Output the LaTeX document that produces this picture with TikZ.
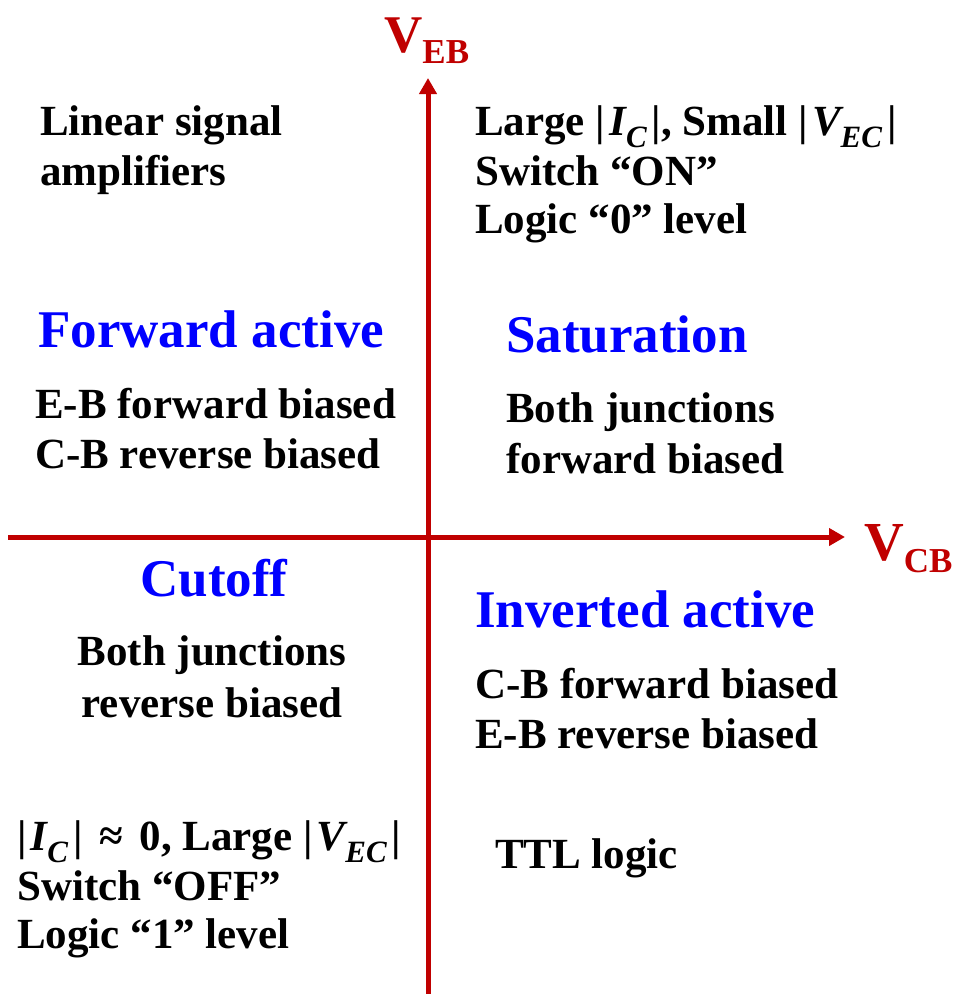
\documentclass[tikz,border=0pt]{standalone}
\usepackage{fontspec}
\setmainfont{Liberation Serif}
\usetikzlibrary{arrows.meta}
\definecolor{axred}{RGB}{192,0,0}
\definecolor{modeblue}{RGB}{0,0,255}
\newcommand{\blkfont}{\fontsize{43}{51}\selectfont\bfseries}
\newcommand{\modefont}{\fontsize{53}{60}\selectfont\bfseries}
\newcommand{\sbit}[1]{\raisebox{-0.3em}[\height][0pt]{\fontsize{31}{31}\selectfont\bfseries\itshape #1}}
\newcommand{\mvar}[1]{{\itshape #1}}
\newcommand{\absv}[1]{|\kern4pt#1\kern5pt|}
\tikzset{
  axis/.style={draw=axred, line width=5pt, -{Triangle[length=16pt,width=17pt]}},
  txt/.style={anchor=base west, inner sep=0pt, font=\blkfont, text=black},
  ctxt/.style={anchor=base, inner sep=0pt, font=\blkfont, text=black},
  mode/.style={anchor=base west, inner sep=0pt, font=\modefont, text=modeblue},
  cmode/.style={anchor=base, inner sep=0pt, font=\modefont, text=modeblue},
  axlab/.style={anchor=base west, inner sep=0pt, text=axred}
}
\begin{document}
\begin{tikzpicture}[x=1pt,y=-1pt]
\useasboundingbox[fill=white] (0,0) rectangle (960,994);
% axes
\coordinate (ybot) at (428,994);
\coordinate (ytop) at (428,78);
\coordinate (xleft) at (8,537);
\coordinate (xright) at (845,537);
\draw[axis] (ybot) -- (ytop);
\draw[axis] (xleft) -- (xright);
% axis labels
\node[axlab] (veb) at (384,52) {\fontsize{53}{53}\selectfont\bfseries V\raisebox{-11pt}{\fontsize{35}{35}\selectfont\bfseries EB}};
\node[axlab] (vcb) at (864,560) {\fontsize{55}{55}\selectfont\bfseries V\raisebox{-12pt}{\fontsize{35}{35}\selectfont\bfseries CB}};
% top-left
\node[txt] (lin1) at (40,135) {Linear signal};
\node[txt] (lin2) at (40,185) {amplifiers};
\node[mode] (fwd) at (38,347) {Forward active};
\node[txt] (fwd1) at (35,418) {E-B forward biased};
\node[txt] (fwd2) at (35,468) {C-B reverse biased};
% top-right
\node[txt] (sat1) at (475,135) {Large \absv{\mvar{I}\sbit{C}}, Small \absv{\mvar{V}\sbit{EC}}};
\node[txt] (sat2) at (475,185) {Switch “ON”};
\node[txt] (sat3) at (475,233) {Logic “0” level};
\node[mode] (sat) at (506,352) {Saturation};
\node[txt] (satb1) at (506,422) {Both junctions};
\node[txt] (satb2) at (506,473) {forward biased};
% bottom-left
\node[cmode] (cut) at (214,596) {Cutoff};
\node[ctxt] (cutb1) at (212,665) {Both junctions};
\node[ctxt] (cutb2) at (212,717) {reverse biased};
\node[txt] (off1) at (17,850) {\absv{\mvar{I}\sbit{C}}\kern6pt{} ≈\kern6pt{} 0, Large \absv{\mvar{V}\sbit{EC}}};
\node[txt] (off2) at (17,900) {Switch “OFF”};
\node[txt] (off3) at (17,948) {Logic “1” level};
% bottom-right
\node[mode] (inv) at (475,627) {Inverted active};
\node[txt] (inv1) at (475,698) {C-B forward biased};
\node[txt] (inv2) at (475,748) {E-B reverse biased};
\node[txt] (ttl) at (495,868) {TTL logic};
\end{tikzpicture}
\end{document}
